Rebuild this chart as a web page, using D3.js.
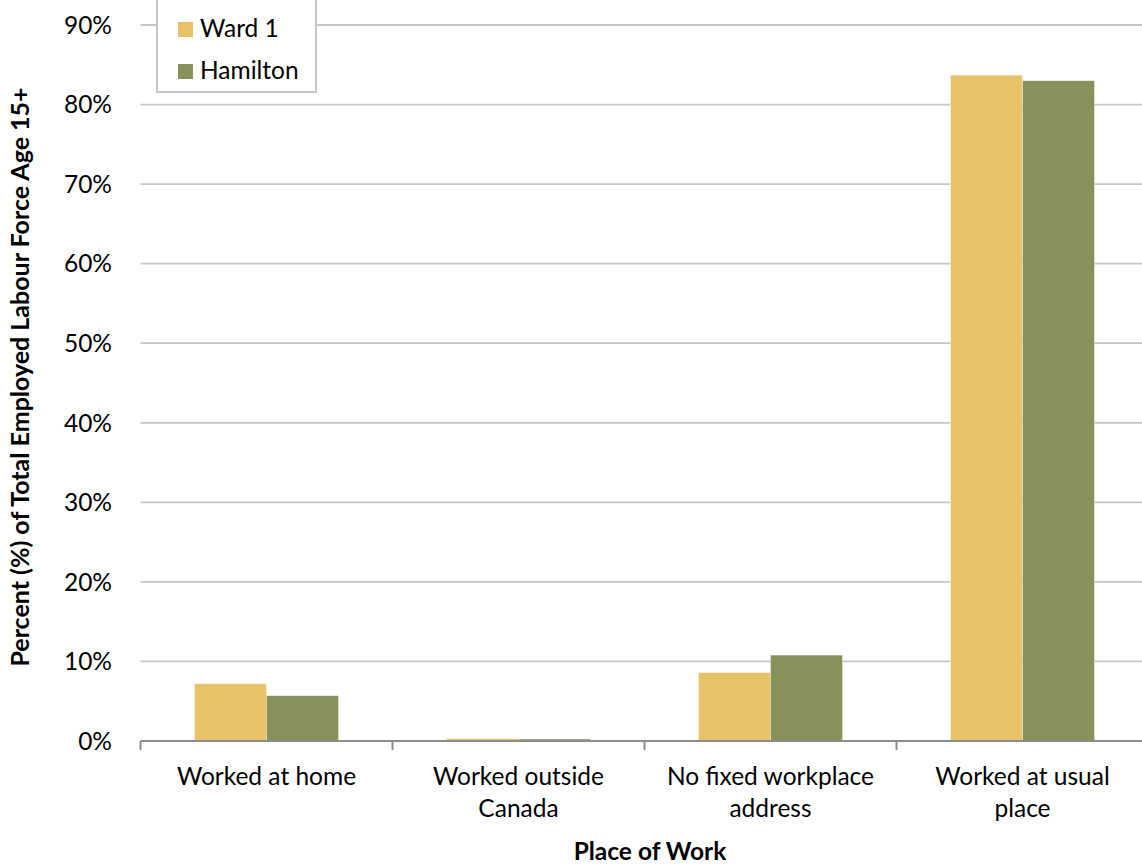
<!DOCTYPE html>
<html><head><meta charset="utf-8">
<script src="https://cdn.jsdelivr.net/npm/d3@7"></script>
<style>body{margin:0;background:#fff}svg{display:block}text{font-family:Lato,"Open Sans",sans-serif;fill:#000}</style>
</head><body>
<script>
const categories = [["Worked at home"], ["Worked outside", "Canada"], ["No fixed workplace", "address"], ["Worked at usual", "place"]];
const seriesNames = ["Ward 1", "Hamilton"];
const ward1 = [7.2, 0.3, 8.6, 83.7];
const hamilton = [5.7, 0.25, 10.8, 83.0];
const yTicks = [0, 10, 20, 30, 40, 50, 60, 70, 80, 90];
const colors = ["#E5C366", "#86925A"];

const W = 1142, H = 867;
const plotLeft = 140.5, plotRight = 1148.5;
const m = {top: 25, bottom: 126};
const svg = d3.select("body").append("svg").attr("width", W).attr("height", H);

const x = d3.scaleBand().domain(d3.range(categories.length)).range([plotLeft, plotRight]).paddingInner(0).paddingOuter(0);
const x1 = d3.scaleBand().domain(seriesNames).range([0, x.bandwidth()]).paddingInner(0).paddingOuter(0.75);
const y = d3.scaleLinear().domain([0, 90]).range([H - m.bottom, m.top]);

// gridlines
svg.append("g").selectAll("line").data(yTicks.filter(d => d > 0)).join("line")
  .attr("x1", plotLeft).attr("x2", W)
  .attr("y1", d => y(d)).attr("y2", d => y(d))
  .attr("stroke", "#c6c6c6").attr("stroke-width", 1.8);

// y tick labels
svg.append("g").selectAll("text").data(yTicks).join("text")
  .attr("x", 112).attr("y", d => y(d)).attr("dy", "0.36em")
  .attr("text-anchor", "end").attr("font-size", 24.5)
  .text(d => d + "%");

// bars
const data = categories.map((c, i) => seriesNames.map((s, j) => ({i, s, j, v: [ward1, hamilton][j][i]})));
svg.append("g").selectAll("g").data(data).join("g")
  .attr("transform", (d, i) => `translate(${x(i)},0)`)
  .selectAll("rect").data(d => d).join("rect")
  .attr("x", d => x1(d.s)).attr("width", x1.bandwidth())
  .attr("y", d => y(d.v)).attr("height", d => y(0) - y(d.v))
  .attr("fill", d => colors[d.j])
  .attr("stroke", "#fff").attr("stroke-opacity", 0.5).attr("stroke-width", 0.8);

// x axis
const xAxis = svg.append("g").attr("transform", `translate(0,${y(0)})`);
xAxis.append("line").attr("x1", plotLeft).attr("x2", W).attr("stroke", "#8c8c8c").attr("stroke-width", 2);
const tickPos = d3.range(categories.length + 1).map(i => i < categories.length ? x(i) : x(categories.length - 1) + x.bandwidth());
xAxis.selectAll("line.t").data(tickPos).join("line").attr("class", "t")
  .attr("x1", d => d).attr("x2", d => d).attr("y1", 0).attr("y2", 9)
  .attr("stroke", "#8c8c8c").attr("stroke-width", 2);

// category labels
svg.append("g").selectAll("text").data(categories).join("text")
  .attr("text-anchor", "middle").attr("font-size", 24.5)
  .each(function(d, i) {
    d3.select(this).selectAll("tspan").data(d).join("tspan")
      .attr("x", x(i) + x.bandwidth() / 2)
      .attr("y", (t, k) => 785 + k * 32)
      .text(t => t);
  });

// axis titles
svg.append("text").attr("x", 650).attr("y", 860).attr("text-anchor", "middle")
  .attr("font-size", 24.5).attr("font-weight", "bold").text("Place of Work");
svg.append("text").attr("transform", `translate(29,377) rotate(-90)`).attr("text-anchor", "middle")
  .attr("font-size", 25).attr("font-weight", "bold").text("Percent (%) of Total Employed Labour Force Age 15+");

// legend
const lg = svg.append("g");
lg.append("rect").attr("x", 157).attr("y", -2).attr("width", 159).attr("height", 94)
  .attr("fill", "#fff").attr("stroke", "#c6c6c6").attr("stroke-width", 2);
seriesNames.forEach((s, j) => {
  lg.append("rect").attr("x", 178).attr("y", 22 + j * 42).attr("width", 15).attr("height", 15).attr("fill", colors[j]);
  lg.append("text").attr("x", 200).attr("y", 37 + j * 42).attr("font-size", 24.5).text(s);
});
</script>
</body></html>
